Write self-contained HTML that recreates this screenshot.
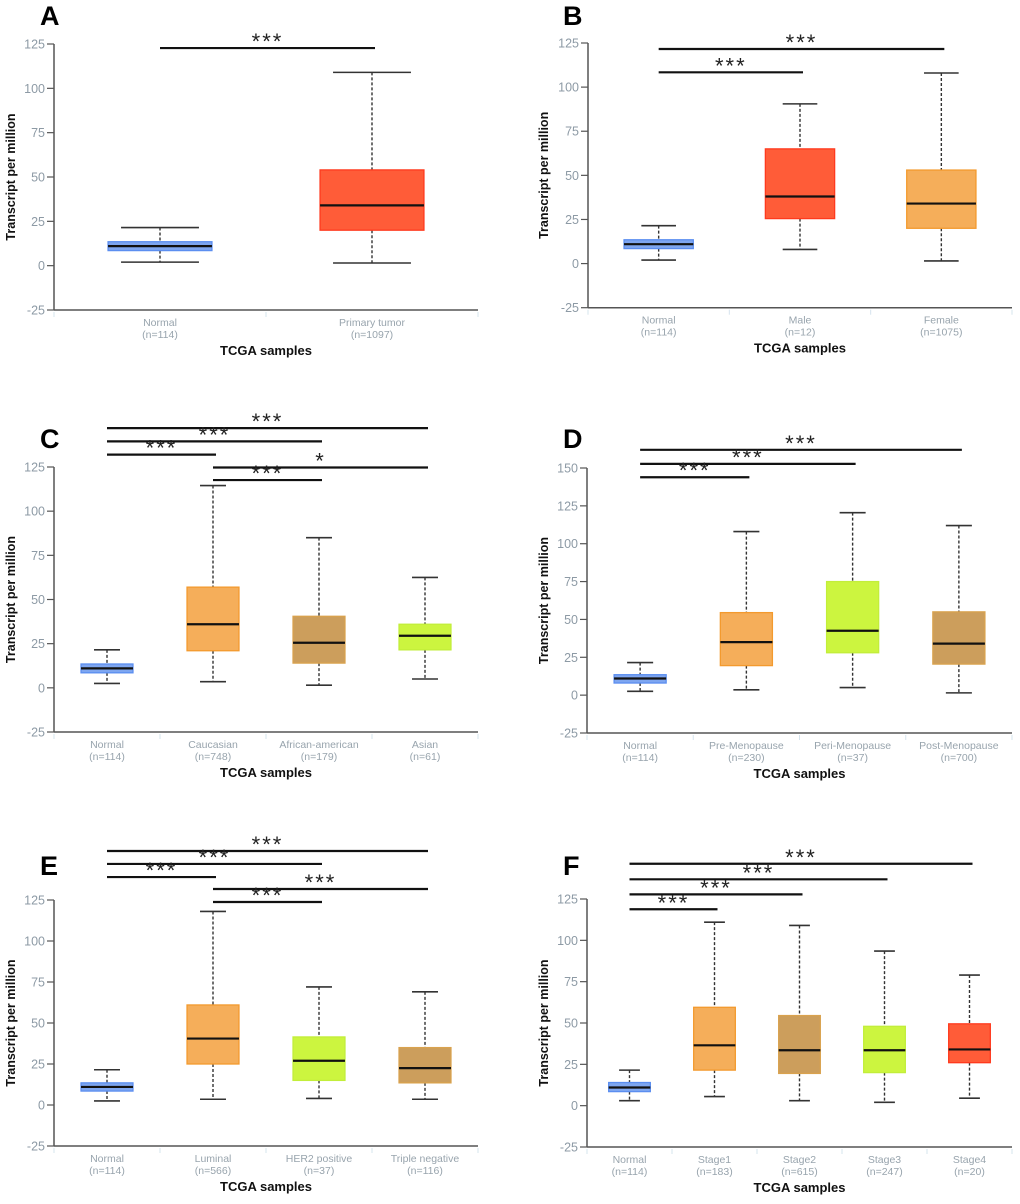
<!DOCTYPE html>
<html><head><meta charset="utf-8">
<style>
html,body{margin:0;padding:0;background:#fff;}
svg{display:block;font-family:"Liberation Sans",sans-serif;}
</style></head>
<body>
<svg id="chart" width="1020" height="1204" viewBox="0 0 1020 1204" xmlns="http://www.w3.org/2000/svg"></svg>
<script>
// ---- Panel A ----
const aCats=["Normal","Primary tumor"];
const aN=["(n=114)","(n=1097)"];
const aLow=[2,1.5], aQ1=[8.5,20], aMed=[11,34], aQ3=[13.5,54], aHigh=[21.5,109];
const aSigFrom=[0], aSigTo=[1], aSigY=[122.7], aSigLabel=["***"];
const aTicks=[-25,0,25,50,75,100,125];
// ---- Panel B ----
const bCats=["Normal","Male","Female"];
const bN=["(n=114)","(n=12)","(n=1075)"];
const bLow=[2,8,1.5], bQ1=[8.5,25.5,20], bMed=[11,38,34], bQ3=[13.5,65,53], bHigh=[21.5,90.5,108];
const bSigFrom=[0,0], bSigTo=[1,2], bSigY=[108.4,121.6], bSigLabel=["***","***"];
const bTicks=[-25,0,25,50,75,100,125];
// ---- Panel C ----
const cCats=["Normal","Caucasian","African-american","Asian"];
const cN=["(n=114)","(n=748)","(n=179)","(n=61)"];
const cLow=[2.5,3.5,1.5,5], cQ1=[8.5,21,14,21.5], cMed=[11,36,25.5,29.5], cQ3=[13.5,57,40.5,36], cHigh=[21.5,114.5,85,62.5];
const cSigFrom=[0,0,0,1,1], cSigTo=[3,2,1,3,2], cSigY=[147,139.5,132,124.7,117.6], cSigLabel=["***","***","***","*","***"];
const cTicks=[-25,0,25,50,75,100,125];
// ---- Panel D ----
const dCats=["Normal","Pre-Menopause","Peri-Menopause","Post-Menopause"];
const dN=["(n=114)","(n=230)","(n=37)","(n=700)"];
const dLow=[2.5,3.5,5,1.5], dQ1=[8,19.5,28,20.5], dMed=[11,35,42.5,34], dQ3=[13.5,54.5,75,55], dHigh=[21.5,108,120.5,112];
const dSigFrom=[0,0,0], dSigTo=[3,2,1], dSigY=[162,152.7,143.9], dSigLabel=["***","***","***"];
const dTicks=[-25,0,25,50,75,100,125,150];
// ---- Panel E ----
const eCats=["Normal","Luminal","HER2 positive","Triple negative"];
const eN=["(n=114)","(n=566)","(n=37)","(n=116)"];
const eLow=[2.5,3.5,4,3.5], eQ1=[8.5,25,15,13.5], eMed=[11,40.5,27,22.5], eQ3=[13.5,61,41.5,35], eHigh=[21.5,118,72,69];
const eSigFrom=[0,0,0,1,1], eSigTo=[3,2,1,3,2], eSigY=[154.9,147,139,131.7,123.8], eSigLabel=["***","***","***","***","***"];
const eTicks=[-25,0,25,50,75,100,125];
// ---- Panel F ----
const fCats=["Normal","Stage1","Stage2","Stage3","Stage4"];
const fN=["(n=114)","(n=183)","(n=615)","(n=247)","(n=20)"];
const fLow=[3,5.5,3,2,4.5], fQ1=[8.5,21.5,19.5,20,26], fMed=[11,36.5,33.5,33.5,34], fQ3=[14,59.5,54.5,48,49.5], fHigh=[21.5,111,109,93.5,79];
const fSigFrom=[0,0,0,0], fSigTo=[4,3,2,1], fSigY=[146.3,136.9,127.8,118.8], fSigLabel=["***","***","***","***"];
const fTicks=[-25,0,25,50,75,100,125];

const BLUE=["#7ea6f0","#5b8ef0"], RED=["#ff5c38","#ff3a1e"], ORANGE=["#f5ae5a","#f39a2e"],
      TAN=["#cc9e5c","#d9a24e"], LIME=["#ccf53f","#c2ee3a"];

const svg=document.getElementById('chart');
const NS="http://www.w3.org/2000/svg";
function mk(tag,attrs,parent){const e=document.createElementNS(NS,tag);for(const k in attrs)e.setAttribute(k,attrs[k]);parent.appendChild(e);return e;}

function panel(id,letter,L,cats,ns,low,q1,med,q3,high,sf,st,sy,sl,ticks,colors,capFrac){
  const g=mk('g',{},svg);
  
  
  const ymin=ticks[0], ymax=ticks[ticks.length-1];
  const y=v=>L.yb-(v-ymin)/(ymax-ymin)*(L.yb-L.yt);
  const band=(L.x1-L.x0)/cats.length;
  const xc=i=>L.x0+band*(i+0.5);
  const lt=mk('text',{x:L.lx,y:L.ly,'font-size':27,'font-weight':'bold',fill:'#000'},g);
  lt.textContent=letter;
  
  
  const ya=mk('line',{x1:L.x0,y1:y(ymax),x2:L.x0,y2:L.yb,stroke:'#555','stroke-width':1.5},g);
  
  
  const xa=mk('line',{x1:L.x0,y1:L.yb,x2:L.x1,y2:L.yb,stroke:'#555','stroke-width':1.5},g);
  
  
  ticks.forEach(t=>{
    mk('line',{x1:L.x0-7,y1:y(t),x2:L.x0,y2:y(t),stroke:'#555','stroke-width':1.2},g);
    const tx=mk('text',{x:L.x0-9,y:y(t)+4.5,'font-size':12.5,fill:'#8d9aa5','text-anchor':'end'},g);
    tx.textContent=t;
    
    
  });
  for(let i=0;i<=cats.length;i++){
    mk('line',{x1:L.x0+band*i,y1:L.yb+2,x2:L.x0+band*i,y2:L.yb+7,stroke:'#d6e4ee','stroke-width':1},g);
  }
  const yt=mk('text',{x:L.tx,y:(y(ymax)+L.yb)/2,'font-size':12.5,'font-weight':'bold',fill:'#111','text-anchor':'middle',transform:'rotate(-90 '+L.tx+' '+((y(ymax)+L.yb)/2)+')'},g);
  yt.textContent='Transcript per million';
  
  
  const xt=mk('text',{x:(L.x0+L.x1)/2,y:L.yb+45,'font-size':13,'font-weight':'bold',fill:'#111','text-anchor':'middle'},g);
  xt.textContent='TCGA samples';
  
  
  const bw=band*0.49, cw=bw*capFrac;
  cats.forEach((c,i)=>{
    const cx=xc(i);
    const c1=mk('text',{x:cx,y:L.yb+16,'font-size':10.5,fill:'#98a4ad','text-anchor':'middle'},g);
    c1.textContent=c;
    
    
    const c2=mk('text',{x:cx,y:L.yb+28,'font-size':10.5,fill:'#98a4ad','text-anchor':'middle'},g);
    c2.textContent=ns[i];
    
    
    const col=colors[i];
    const bg=mk('g',{},g);
    
    
    mk('line',{x1:cx,y1:y(high[i]),x2:cx,y2:y(q3[i]),stroke:'#333','stroke-width':1.4,'stroke-dasharray':'3,2'},bg);
    mk('line',{x1:cx,y1:y(q1[i]),x2:cx,y2:y(low[i]),stroke:'#333','stroke-width':1.4,'stroke-dasharray':'3,2'},bg);
    mk('line',{x1:cx-cw/2,y1:y(high[i]),x2:cx+cw/2,y2:y(high[i]),stroke:'#333','stroke-width':1.6},bg);
    mk('line',{x1:cx-cw/2,y1:y(low[i]),x2:cx+cw/2,y2:y(low[i]),stroke:'#333','stroke-width':1.6},bg);
    mk('rect',{x:cx-bw/2,y:y(q3[i]),width:bw,height:y(q1[i])-y(q3[i]),fill:col[0],stroke:col[1],'stroke-width':1.3},bg);
    mk('line',{x1:cx-bw/2,y1:y(med[i]),x2:cx+bw/2,y2:y(med[i]),stroke:'#111','stroke-width':2.2},bg);
  });
  sf.forEach((f,k)=>{
    const x1=xc(f), x2=xc(st[k])+3, yy=y(sy[k]);
    const sg=mk('g',{},g);
    
    
    mk('line',{x1:x1,y1:yy,x2:x2,y2:yy,stroke:'#111','stroke-width':2.2},sg);
    const s=mk('text',{x:(x1+x2)/2,y:yy+1,'font-size':22,fill:'#222','text-anchor':'middle','letter-spacing':'2'},sg);
    s.textContent=sl[k];
  });
}
panel('a','A',{x0:54,x1:478,yt:44,yb:310,lx:40,ly:25,tx:15},aCats,aN,aLow,aQ1,aMed,aQ3,aHigh,aSigFrom,aSigTo,aSigY,aSigLabel,aTicks,[BLUE,RED],0.75);
panel('b','B',{x0:588,x1:1012,yt:43,yb:307.7,lx:563,ly:25,tx:548},bCats,bN,bLow,bQ1,bMed,bQ3,bHigh,bSigFrom,bSigTo,bSigY,bSigLabel,bTicks,[BLUE,RED,ORANGE],0.5);
panel('c','C',{x0:54,x1:478,yt:467,yb:732,lx:40,ly:448,tx:15},cCats,cN,cLow,cQ1,cMed,cQ3,cHigh,cSigFrom,cSigTo,cSigY,cSigLabel,cTicks,[BLUE,ORANGE,TAN,LIME],0.5);
panel('d','D',{x0:587,x1:1012,yt:468,yb:733,lx:563,ly:448,tx:548},dCats,dN,dLow,dQ1,dMed,dQ3,dHigh,dSigFrom,dSigTo,dSigY,dSigLabel,dTicks,[BLUE,ORANGE,LIME,TAN],0.5);
panel('e','E',{x0:54,x1:478,yt:900,yb:1146,lx:40,ly:875,tx:15},eCats,eN,eLow,eQ1,eMed,eQ3,eHigh,eSigFrom,eSigTo,eSigY,eSigLabel,eTicks,[BLUE,ORANGE,LIME,TAN],0.5);
panel('f','F',{x0:587,x1:1012,yt:899,yb:1147,lx:563,ly:875,tx:548},fCats,fN,fLow,fQ1,fMed,fQ3,fHigh,fSigFrom,fSigTo,fSigY,fSigLabel,fTicks,[BLUE,ORANGE,TAN,LIME,RED],0.5);
</script>
</body></html>
